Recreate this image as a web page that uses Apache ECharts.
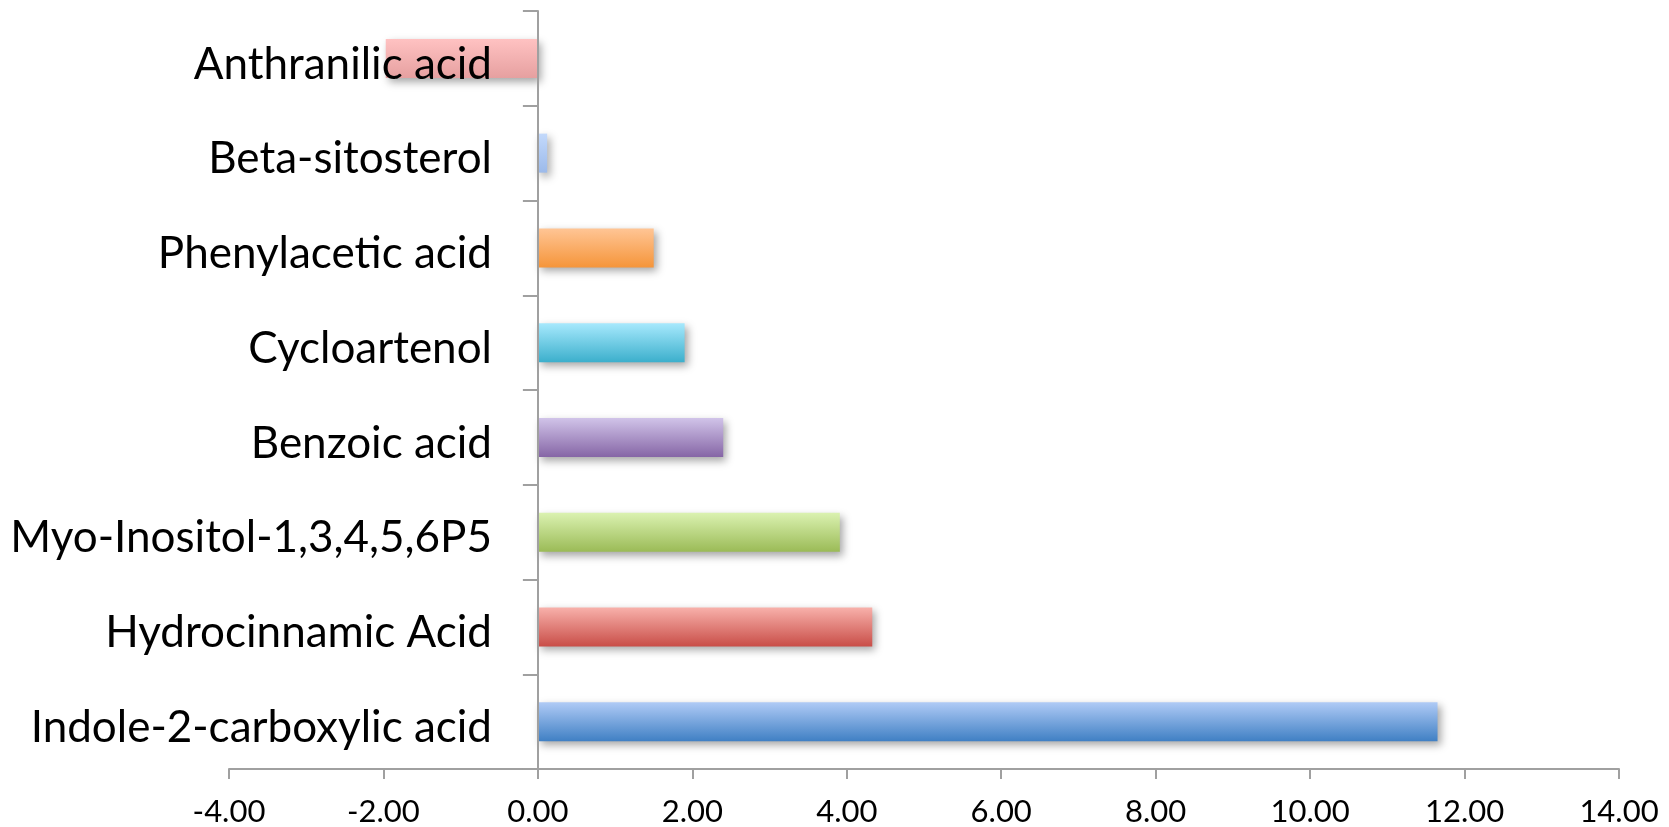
<!DOCTYPE html>
<html>
<head>
<meta charset="utf-8">
<script src="https://cdn.jsdelivr.net/npm/echarts@6/dist/echarts.min.js"></script>
<style>
  html, body { margin: 0; padding: 0; background: #ffffff; }
  #chart { width: 1669px; height: 827px; }
</style>
</head>
<body>
<div id="chart"></div>
<script>
// Compounds, listed bottom to top as the category axis draws them
const compounds = [
  'Indole-2-carboxylic acid',
  'Hydrocinnamic Acid',
  'Myo-Inositol-1,3,4,5,6P5',
  'Benzoic acid',
  'Cycloartenol',
  'Phenylacetic acid',
  'Beta-sitosterol',
  'Anthranilic acid'
];

// Fold change for each compound
const foldChange = [11.65, 4.33, 3.91, 2.40, 1.90, 1.50, 0.12, -1.97];

// Gradient stops (top, bottom) for each bar
const barTopColors    = ['#b0cbf6', '#f8b1ab', '#dbf2b1', '#d1c4e9', '#a7e9fd', '#ffc595', '#c3d9fb', '#ffc2c2'];
const barBottomColors = ['#4080c4', '#c94e48', '#9bbb57', '#8666a6', '#3cafcc', '#f5953a', '#9cbaea', '#e6a0a0'];

// Value axis range and step
const axisMin = -4;
const axisMax = 14;
const axisStep = 2;

const chart = echarts.init(document.getElementById('chart'), null, { renderer: 'canvas' });

const axisGray = '#a0a0a0';
const gridLeft = 229;
// Category labels end this far right of the chart's left edge, just left of the zero line
const labelRight = 492;

const barData = foldChange.map((v, i) => ({
  value: v,
  itemStyle: {
    color: new echarts.graphic.LinearGradient(0, 0, 0, 1, [
      { offset: 0, color: barTopColors[i] },
      { offset: 1, color: barBottomColors[i] }
    ])
  }
}));

chart.setOption({
  animation: false,
  backgroundColor: '#ffffff',
  grid: {
    left: gridLeft,
    right: 50,
    top: 11,
    bottom: 58,
    containLabel: false,
    outerBoundsMode: 'none'
  },
  xAxis: {
    type: 'value',
    min: axisMin,
    max: axisMax,
    interval: axisStep,
    axisLine: { show: true, lineStyle: { color: axisGray, width: 2 } },
    axisTick: { show: true, length: 10, lineStyle: { color: axisGray, width: 2 } },
    splitLine: { show: false },
    axisLabel: {
      margin: 27,
      color: '#000000',
      fontFamily: 'Lato',
      fontSize: 31,
      formatter: v => v.toFixed(2)
    }
  },
  yAxis: {
    type: 'category',
    data: compounds,
    z: 5,
    axisLine: { show: true, onZero: true, lineStyle: { color: axisGray, width: 2 } },
    axisTick: { show: true, length: 15, lineStyle: { color: axisGray, width: 2 } },
    axisLabel: {
      margin: gridLeft - labelRight,
      hideOverlap: false,
      formatter: v => '{name|' + v + '}',
      rich: {
        name: {
          color: '#000000',
          fontFamily: 'Lato',
          fontSize: 44,
          padding: [12, 0, 0, 0]
        }
      }
    }
  },
  series: [{
    type: 'bar',
    data: barData,
    barWidth: 39,
    itemStyle: {
      shadowBlur: 8,
      shadowOffsetX: 3,
      shadowOffsetY: 4,
      shadowColor: 'rgba(0,0,0,0.35)'
    }
  }]
});
</script>
</body>
</html>
